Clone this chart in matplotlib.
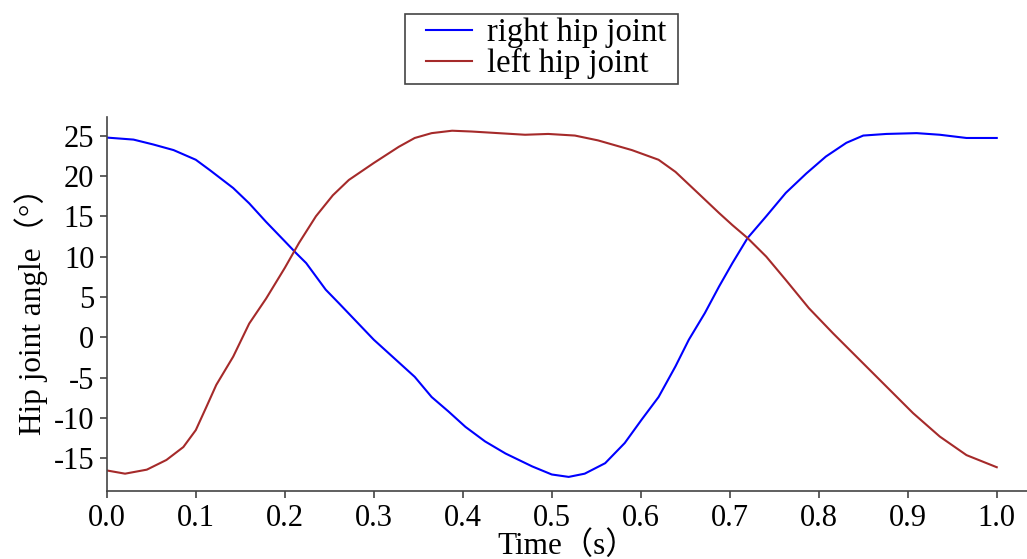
import matplotlib.pyplot as plt
from matplotlib.patches import Rectangle

# right hip joint
t_right = [0.0, 0.03, 0.052, 0.075, 0.1, 0.116, 0.142, 0.16, 0.179, 0.2, 0.213, 0.224,
           0.246, 0.261, 0.3, 0.328, 0.346, 0.365, 0.384, 0.403, 0.425, 0.448, 0.478,
           0.5, 0.519, 0.537, 0.56, 0.582, 0.601, 0.62, 0.639, 0.654, 0.672, 0.688,
           0.703, 0.72, 0.741, 0.763, 0.786, 0.808, 0.831, 0.85, 0.876, 0.91, 0.936,
           0.966, 1.0]
right_hip = [24.75, 24.5, 23.9, 23.2, 22.0, 20.7, 18.5, 16.6, 14.3, 11.9, 10.4, 9.2,
             5.9, 4.2, -0.3, -3.1, -4.9, -7.4, -9.2, -11.1, -12.9, -14.4, -16.0,
             -17.0, -17.3, -16.9, -15.6, -13.1, -10.2, -7.4, -3.6, -0.3, 3.0, 6.3,
             9.2, 12.3, 15.0, 17.9, 20.3, 22.4, 24.1, 25.0, 25.2, 25.3, 25.1,
             24.7, 24.7]

# left hip joint
t_left = [0.0, 0.0205, 0.045, 0.067, 0.086, 0.1, 0.112, 0.123, 0.142, 0.16, 0.179,
          0.2, 0.216, 0.235, 0.254, 0.272, 0.3, 0.328, 0.346, 0.365, 0.388, 0.41,
          0.44, 0.47, 0.496, 0.526, 0.552, 0.59, 0.62, 0.639, 0.665, 0.688, 0.703,
          0.72, 0.741, 0.763, 0.789, 0.816, 0.846, 0.876, 0.906, 0.936, 0.966, 1.0]
left_hip = [-16.5, -16.9, -16.4, -15.2, -13.6, -11.5, -8.6, -5.9, -2.4, 1.7, 4.8,
            8.6, 11.7, 15.0, 17.6, 19.5, 21.6, 23.6, 24.7, 25.3, 25.6, 25.5,
            25.3, 25.1, 25.2, 25.0, 24.4, 23.2, 22.0, 20.5, 17.8, 15.4, 13.9,
            12.3, 10.0, 7.1, 3.6, 0.5, -2.8, -6.1, -9.4, -12.3, -14.6, -16.1]

x_ticks = [0.0, 0.1, 0.2, 0.3, 0.4, 0.5, 0.6, 0.7, 0.8, 0.9, 1.0]
y_ticks = [-15, -10, -5, 0, 5, 10, 15, 20, 25]

plt.rcParams['font.family'] = ['Liberation Serif', 'Noto Sans CJK SC', 'DejaVu Sans']
plt.rcParams['axes.unicode_minus'] = False

fig = plt.figure(figsize=(10.27, 5.59), dpi=100)
ax = fig.add_axes([0.104, 0.1216, 0.896, 0.6691])

ax.plot(t_right, right_hip, color='#0000ff', lw=1.5, label='right hip joint')
ax.plot(t_left, left_hip, color='#a52a2a', lw=1.5, label='left hip joint')

ax.set_xlim(0, 1.034)
ax.set_ylim(-19.05, 27.3)
ax.set_xticks(x_ticks)
ax.set_xticklabels([f"{v:.1f}" for v in x_ticks])
ax.set_yticks(y_ticks)

for s in ('top', 'right'):
    ax.spines[s].set_visible(False)
for s in ('left', 'bottom'):
    ax.spines[s].set_color('#444444')
    ax.spines[s].set_linewidth(1.2)
ax.tick_params(labelsize=22, length=5, width=1.2, color='#444444', pad=4)

ax.set_xlabel('Time（s）', fontsize=22.5, labelpad=-1)
ax.set_ylabel('Hip joint angle（°）', fontsize=22.5, labelpad=4)

# legend without its own frame; box drawn around it with wider left padding
leg = fig.legend(loc='center', bbox_to_anchor=(0.532, 0.913), fontsize=23.5,
                 frameon=False, handlelength=1.4, handletextpad=0.45,
                 labelspacing=0.0, borderpad=0.1, borderaxespad=0)

fig.canvas.draw()
bb = leg.get_window_extent()
W, H = fig.bbox.width, fig.bbox.height
pad_l, pad_r, pad_v = 18, 8, 1
fig.patches.append(Rectangle(((bb.x0 - pad_l) / W, (bb.y0 - pad_v) / H),
                             (bb.width + pad_l + pad_r) / W,
                             (bb.height + 2 * pad_v) / H,
                             transform=fig.transFigure, fill=False,
                             edgecolor='#444444', linewidth=1.2))

fig.savefig('out.png', dpi=100)
plt.close(fig)
